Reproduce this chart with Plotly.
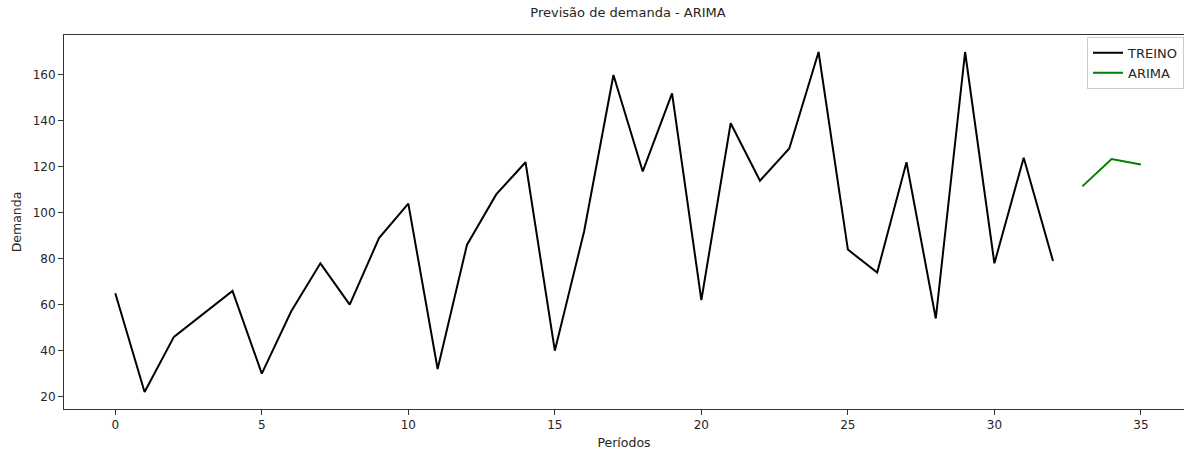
import plotly.graph_objects as go

# Série histórica de demanda (treino) e previsão ARIMA
periodos_treino = list(range(0, 33))
demanda_treino = [65, 22, 46, 56, 66, 30, 57, 78, 60, 89, 104, 32, 86, 108, 122, 40,
                  92, 160, 118, 152, 62, 139, 114, 128, 170, 84, 74, 122, 54, 170,
                  78, 124, 79]
periodos_previsao = [33, 34, 35]
demanda_arima = [111.5, 123.4, 121.0]

x_ticks = [0, 5, 10, 15, 20, 25, 30, 35]
y_ticks = [20, 40, 60, 80, 100, 120, 140, 160]

FONT = "DejaVu Sans"
AXIS_COLOR = "#333333"
TEXT_COLOR = "#262626"

fig = go.Figure()
fig.add_trace(go.Scatter(x=periodos_treino, y=demanda_treino, mode="lines",
                         name="TREINO", line=dict(color="black", width=2)))
fig.add_trace(go.Scatter(x=periodos_previsao, y=demanda_arima, mode="lines",
                         name="ARIMA", line=dict(color="#008000", width=2)))

fig.update_layout(
    width=1184, height=450,
    margin=dict(l=64, r=0, t=35, b=41),
    paper_bgcolor="white", plot_bgcolor="white",
    font=dict(family=FONT, size=12, color=TEXT_COLOR),
    title=dict(text="Previsão de demanda - ARIMA", x=628 / 1184, xref="container",
               xanchor="center", y=1 - 12 / 450, yref="container", yanchor="middle",
               font=dict(size=13, color=TEXT_COLOR)),
    legend=dict(x=0.9134, y=0.995, xanchor="left", yanchor="top",
                bgcolor="white", bordercolor="#cccccc", borderwidth=1,
                font=dict(size=13, color=TEXT_COLOR)),
    showlegend=True,
)

fig.update_xaxes(range=[-1.75, 36.47], tickvals=x_ticks, ticktext=[str(v) for v in x_ticks],
                 showgrid=False, zeroline=False, showline=True, mirror=True,
                 linecolor=AXIS_COLOR, linewidth=1, ticks="outside", ticklen=5,
                 tickcolor=AXIS_COLOR, tickwidth=1,
                 title=dict(text="Períodos", standoff=8, font=dict(size=12.5)))
fig.update_yaxes(range=[14.6, 177.4], tickvals=y_ticks, ticktext=[str(v) for v in y_ticks],
                 showgrid=False, zeroline=False, showline=True, mirror=False,
                 linecolor=AXIS_COLOR, linewidth=1, ticks="outside", ticklen=5,
                 tickcolor=AXIS_COLOR, tickwidth=1,
                 title=dict(text="Demanda", standoff=8, font=dict(size=12.5)))

fig.write_html("out.html")
